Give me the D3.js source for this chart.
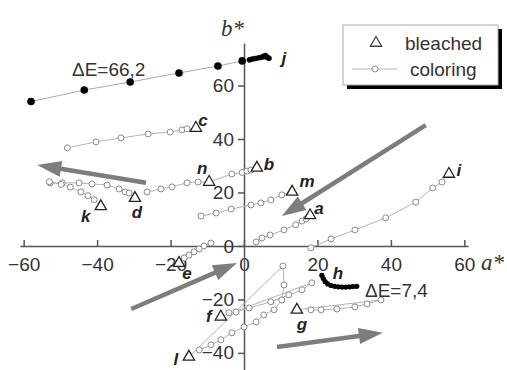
<!DOCTYPE html>
<html>
<head>
<meta charset="utf-8">
<script src="https://cdn.jsdelivr.net/npm/d3@7"></script>
<style>
  body { margin: 0; background: #fff; }
  text { font-family: "Liberation Sans", Arial, sans-serif; }
</style>
</head>
<body>
<svg id="chart" width="507" height="370"></svg>
<script>
// tick labels
const xTicks = [-60, -40, -20, 0, 20, 40, 60];
const yTicks = [-40, -20, 0, 20, 40, 60];

// coloring paths [a*, b*]
const colA = [[3.3, 1.5], [4.9, 3], [7.1, 4.1], [10.9, 6], [14.1, 7.9], [15.8, 9.3], [16.9, 10.1]];
const colB = [[-9.5, 23.9], [-3.3, 26.9], [-0.5, 27.5], [0.8, 28], [1.9, 28.4]];
const colC = [[-48.1, 36.7], [-40.3, 38.9], [-33.5, 40.4], [-26.1, 41.9], [-20.1, 42.6], [-16.9, 43.4], [-15.5, 43.8]];
const colD = [[-52.8, 23.6], [-49.5, 23.6], [-44.9, 23.6], [-41.4, 23.2], [-37.3, 22.8], [-34, 21.3], [-32.4, 20.2], [-31.3, 19.8]];
const colE = [[-9, 1.1], [-10.9, 0], [-12.2, -1.1], [-13.6, -2.2], [-15, -3.4], [-16.3, -4.5]];
const colF = [[-4.1, -25], [-2.2, -24.7], [1.4, -23.2], [7.3, -20.9], [12.2, -18.3], [15.8, -16.4], [18.5, -13.8]];
const colG = [[18.2, -23.9], [21, -23.9], [25.3, -23.6], [30.2, -22.8], [33.5, -21.7], [37.3, -20.2]];
const colI = [[18.2, -0.7], [23.7, 2.6], [30.2, 6], [38.6, 10.5], [46.8, 16.4], [51.4, 21.7], [53.9, 23.9]];
const colK = [[-53, 24], [-49.8, 23], [-47.3, 22], [-44.4, 20.2], [-42.5, 18.8], [-40.8, 17.3]];
const colL = [[-12.2, -38.9], [-9, -37], [-6.3, -35.1], [-3.3, -32.5], [0, -30.3], [3.3, -28.4], [5.4, -25.8], [8.2, -23.9], [10.3, -20.2], [10.9, -14.6], [10.6, -7.5]];
const colM = [[-11.7, 11.2], [-7.6, 12.3], [-3.5, 13.8], [1.9, 15.3], [4.6, 16.1], [7.3, 17.2], [10.3, 19.1]];
const colN = [[-26.4, 20.2], [-22.6, 21.3], [-19.6, 22.1], [-15.5, 23.6], [-12.5, 23.9]];

// bleached end points
const bleached = [
  ["a", 18, 11.4], ["b", 3.5, 29.2], ["c", -13.1, 44.1], ["d", -29.7, 17.9],
  ["e", -17.7, -6.4], ["f", -6.3, -26.5], ["g", 14.4, -23.9], ["i", 55.8, 26.9],
  ["k", -39, 14.8], ["l", -15, -41.5], ["m", 13.1, 20.2], ["n", -9.5, 23.9]
];

// black series (large colour change j, small h)
const serJ = [[-58, 54], [-43.5, 58.3], [-31, 61.3], [-17.7, 64.7], [-7.1, 67.3], [-0.5, 69.2],
  [1.5, 69.6], [2.2, 69.9], [3, 70.1], [3.8, 70.3], [4.5, 70.5], [5.2, 70.8], [5.8, 71.2], [6.3, 70.6], [6.8, 70.2]];
const serH = [[21.2, -11], [21.6, -12.2], [22.1, -13.3], [22.8, -14.2], [23.7, -14.8], [24.7, -15.1],
  [25.7, -15.3], [26.7, -15.4], [27.7, -15.4], [28.7, -15.3], [29.7, -15.2], [30.7, -15.1]];

// direction arrows [a1, b1, a2, b2]
const arrows = [[-26.7, 23.6, -56.3, 30.3], [49.5, 45.2, 10.3, 11.2], [-30.7, -23.6, -1.9, -6.4], [9, -37.8, 37.8, -32.5]];

const coloring = {a: colA, b: colB, c: colC, d: colD, e: colE, f: colF, g: colG, i: colI, k: colK, l: colL, m: colM, n: colN};

const svg = d3.select("#chart");
const x = d3.scaleLinear().domain([-61, 61]).range([20, 468]);
const y = d3.scaleLinear().domain([-46.4, 75.9]).range([370, 43]);
const line = d3.line().x(d => x(d[0])).y(d => y(d[1]));

// axes
const axisColor = "#555";
const gx = svg.append("g").attr("transform", "translate(0," + y(0) + ")");
gx.call(d3.axisBottom(x).tickValues(d3.range(-50, 61, 20)).tickSize(-3).tickSizeOuter(0).tickFormat(""));
gx.call(d3.axisBottom(x).tickValues(xTicks).tickSize(-6).tickSizeOuter(0).tickPadding(12));
const gy = svg.append("g").attr("transform", "translate(" + x(0) + ",0)");
gy.call(d3.axisLeft(y).tickValues(d3.range(-30, 71, 20)).tickSize(3).tickSizeOuter(0).tickFormat(""));
gy.call(d3.axisLeft(y).tickValues(yTicks).tickSize(6).tickSizeOuter(0).tickPadding(4));
svg.selectAll(".domain, .tick line").attr("stroke", axisColor).attr("stroke-width", 1.5);
svg.selectAll(".tick text").attr("fill", "#333").style("font-size", "19px")
  .style("font-family", "'Liberation Sans', Arial, sans-serif");

svg.append("text").attr("x", 221).attr("y", 36).text("b*")
  .style("font-family", "'Liberation Serif', serif").style("font-style", "italic")
  .style("font-size", "23px").attr("fill", "#333");
svg.append("text").attr("x", 481).attr("y", 270).text("a*")
  .style("font-family", "'Liberation Serif', serif").style("font-style", "italic")
  .style("font-size", "23px").attr("fill", "#333");

// coloring lines (ending at bleached point)
const plot = svg.append("g");
bleached.forEach(function (d) {
  let pts = coloring[d[0]].concat([[d[1], d[2]]]);
  plot.append("path").attr("d", line(pts)).attr("fill", "none")
    .attr("stroke", "#b3b3b3").attr("stroke-width", 1);
});
plot.append("path").attr("d", line(serJ)).attr("fill", "none").attr("stroke", "#aaa").attr("stroke-width", 1);

// arrows
arrows.forEach(function (d) {
  let x1 = x(d[0]), y1 = y(d[1]), x2 = x(d[2]), y2 = y(d[3]);
  let len = Math.hypot(x2 - x1, y2 - y1);
  let ux = (x2 - x1) / len, uy = (y2 - y1) / len;
  let hl = 24, hw = 8;
  let bx = x2 - ux * hl, by = y2 - uy * hl;
  plot.append("line").attr("x1", x1).attr("y1", y1).attr("x2", bx + ux * 2).attr("y2", by + uy * 2)
    .attr("stroke", "#7d7d7d").attr("stroke-width", 4.5);
  plot.append("path")
    .attr("d", "M" + x2 + "," + y2 + "L" + (bx - uy * hw) + "," + (by + ux * hw) +
      "L" + (bx + uy * hw) + "," + (by - ux * hw) + "Z")
    .attr("fill", "#7d7d7d");
});

// coloring circles
Object.keys(coloring).forEach(function (k) {
  plot.append("g").selectAll("circle").data(coloring[k]).enter().append("circle")
    .attr("cx", d => x(d[0])).attr("cy", d => y(d[1])).attr("r", 3)
    .attr("fill", "#fff").attr("stroke", "#8a8a8a").attr("stroke-width", 1);
});

// black dots
plot.append("g").selectAll("circle").data(serJ).enter().append("circle")
  .attr("cx", d => x(d[0])).attr("cy", d => y(d[1])).attr("r", (d, i) => i < 6 ? 3.8 : 2.8).attr("fill", "#000");
plot.append("g").selectAll("circle").data(serH).enter().append("circle")
  .attr("cx", d => x(d[0])).attr("cy", d => y(d[1])).attr("r", 2.6).attr("fill", "#000");

// bleached triangles
const tri = d3.symbol().type(d3.symbolTriangle).size(55);
plot.append("g").selectAll("path").data(bleached).enter().append("path")
  .attr("d", tri).attr("transform", d => "translate(" + x(d[1]) + "," + y(d[2]) + ")")
  .attr("fill", "#fff").attr("stroke", "#222").attr("stroke-width", 1.3);

// series letters, offsets in px from the bleached point
const labelOffset = {a: [9, -7], b: [12, -3], c: [7, -8], d: [2, 14], e: [8, 10], f: [-12, 0],
  g: [5, 15], i: [10, -4], k: [-15, 10], l: [-13, 3], m: [15, -10], n: [-7, -14]};
const labels = svg.append("g").style("font-weight", "bold").style("font-style", "italic")
  .style("font-size", "17px").attr("fill", "#222").attr("text-anchor", "middle").attr("dominant-baseline", "central");
bleached.forEach(function (d) {
  let o = labelOffset[d[0]];
  labels.append("text").attr("x", x(d[1]) + o[0]).attr("y", y(d[2]) + o[1]).text(d[0]);
});
let jEnd = serJ[serJ.length - 1], hTop = serH[0];
labels.append("text").attr("x", x(jEnd[0]) + 15).attr("y", y(jEnd[1])).text("j");
labels.append("text").attr("x", x(hTop[0]) + 16).attr("y", y(hTop[1]) - 2).text("h");

svg.append("text").attr("x", 72).attr("y", 76).text("\u0394E=66,2").style("font-size", "19px").attr("fill", "#333");
svg.append("text").attr("x", 365).attr("y", 297).text("\u0394E=7,4").style("font-size", "19px").attr("fill", "#333");

// legend
const lg = svg.append("g");
lg.append("rect").attr("x", 347).attr("y", 29).attr("width", 155).attr("height", 60).attr("fill", "#000");
lg.append("rect").attr("x", 343).attr("y", 25).attr("width", 155).attr("height", 60)
  .attr("fill", "#fff").attr("stroke", "#aaa").attr("stroke-width", 1);
lg.append("path").attr("d", tri).attr("transform", "translate(376,43)")
  .attr("fill", "#fff").attr("stroke", "#444").attr("stroke-width", 1.3);
lg.append("text").attr("x", 405).attr("y", 50).text("bleached").style("font-size", "19px").attr("fill", "#333");
lg.append("line").attr("x1", 352).attr("x2", 397).attr("y1", 69).attr("y2", 69).attr("stroke", "#b3b3b3");
lg.append("circle").attr("cx", 375).attr("cy", 69).attr("r", 3).attr("fill", "#fff").attr("stroke", "#8a8a8a");
lg.append("text").attr("x", 410).attr("y", 76).text("coloring").style("font-size", "19px").attr("fill", "#333");
</script>
</body>
</html>
